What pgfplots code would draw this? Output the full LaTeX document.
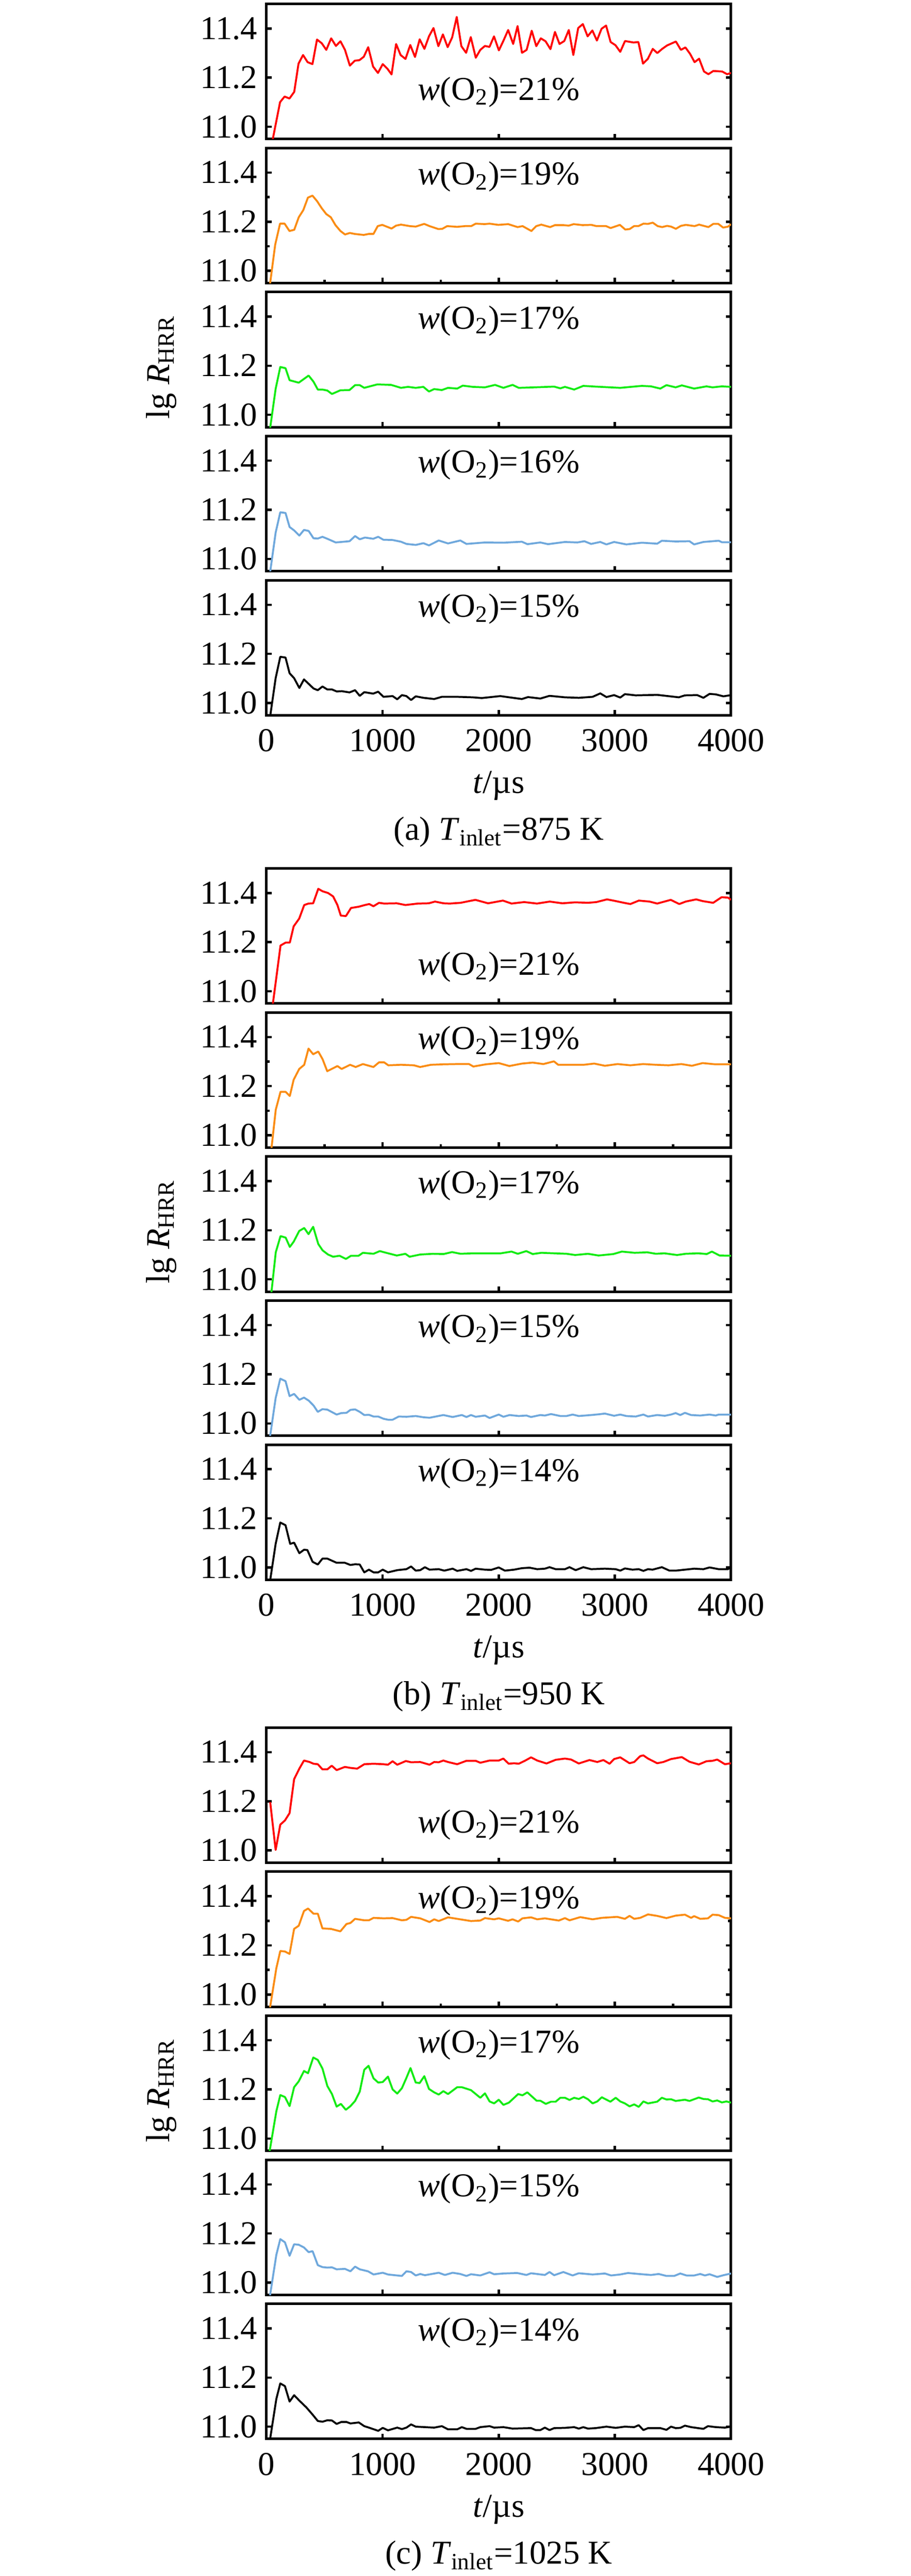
\documentclass[border=0pt]{standalone}
\usepackage{fontspec}
\setmainfont{Liberation Serif}
\usepackage{pgfplots}
\pgfplotsset{compat=1.18}
\definecolor{cRed}{RGB}{255,0,0}
\definecolor{cOrg}{RGB}{250,140,20}
\definecolor{cGrn}{RGB}{20,235,20}
\definecolor{cBlu}{RGB}{111,168,220}
\newcommand\lblfont{\fontsize{13pt}{15pt}\selectfont}
\newcommand\wlab[2]{\node[anchor=base,font=\lblfont] at (axis cs:2000,#1) {\textit{w}(O\textsubscript{2})=#2\%};}
\pgfplotsset{
  panel/.style={
    scale only axis, width=180.8pt, height=52.6pt,
    anchor=north west,
    xmin=0, xmax=4000, ymin=10.95, ymax=11.5,
    xtick={0,1000,2000,3000,4000}, ytick={11.0,11.2,11.4},
    yticklabels={11.0,11.2,11.4},
    xticklabels={},
    xtick pos=bottom, ytick pos=both,
    tick align=inside,
    major tick length=2pt, minor tick length=1.2pt,
    axis line style={line width=1pt},
    every tick/.style={black, line width=0.9pt},
    tick label style={font=\lblfont},
    label style={font=\lblfont},
    clip mode=individual,
    every axis plot/.append style={line width=0.75pt, line join=round, mark=none},
  },
  minorp/.style={minor xtick={500,1500,2500,3500}, minor ytick={11.1,11.3}},
  bottomp/.style={
    xticklabels={0,1000,2000,3000,4000},
    xticklabel style={yshift=-2pt},
    xlabel={\textit{t}/µs},
    xlabel style={at={(axis description cs:0.5,0)}, anchor=base, yshift=-30.4pt},
  },
  ylabp/.style={
    ylabel={lg \textit{R}\textsubscript{HRR}},
    ylabel style={at={(axis description cs:-0.226,0.445)}, anchor=center},
  },
}
\begin{document}
\begin{tikzpicture}
\useasboundingbox (0,0) rectangle (354.4pt,-1003.2pt);
% ================= (a) 875 K =================
\begin{axis}[panel, at={(103.7pt,-1.54pt)}]
\addplot[cRed] table {
15 10.85
57 10.956
117 11.1
156 11.123
198 11.115
239 11.142
276 11.257
315 11.292
354 11.263
396 11.255
435 11.355
476 11.34
515 11.313
557 11.36
598 11.329
637 11.348
676 11.313
718 11.249
761 11.269
800 11.271
838 11.285
876 11.324
918 11.245
960 11.219
1001 11.255
1040 11.237
1077 11.213
1116 11.337
1155 11.292
1197 11.276
1238 11.333
1279 11.284
1319 11.356
1360 11.317
1400 11.369
1438 11.402
1480 11.328
1519 11.376
1560 11.324
1599 11.364
1638 11.447
1678 11.328
1719 11.301
1759 11.365
1802 11.281
1841 11.313
1881 11.329
1920 11.325
1959 11.368
2001 11.311
2040 11.35
2081 11.394
2124 11.337
2162 11.41
2200 11.301
2240 11.313
2284 11.391
2323 11.328
2362 11.36
2403 11.348
2445 11.316
2484 11.386
2523 11.337
2564 11.349
2603 11.394
2642 11.292
2684 11.402
2724 11.418
2765 11.368
2806 11.392
2845 11.351
2885 11.399
2924 11.412
2963 11.345
3005 11.332
3046 11.305
3087 11.349
3161 11.343
3202 11.345
3242 11.257
3283 11.276
3326 11.317
3365 11.3
3407 11.317
3449 11.331
3525 11.347
3568 11.313
3607 11.323
3647 11.297
3686 11.263
3725 11.277
3767 11.225
3805 11.214
3847 11.227
3923 11.225
3966 11.214
4000 11.219
};
\wlab{11.109}{21}
\end{axis}
\begin{axis}[panel, minorp, at={(103.7pt,-57.64pt)}]
\addplot[cOrg] table {
15 10.89
75 11.106
117 11.192
156 11.192
198 11.162
239 11.167
278 11.218
317 11.247
357 11.298
396 11.306
435 11.284
477 11.254
515 11.231
554 11.218
594 11.186
637 11.162
676 11.148
718 11.154
761 11.15
837 11.146
879 11.15
921 11.15
958 11.182
997 11.187
1077 11.172
1116 11.184
1158 11.188
1234 11.182
1285 11.18
1358 11.191
1404 11.182
1480 11.17
1514 11.171
1556 11.182
1641 11.179
1709 11.182
1763 11.182
1802 11.192
1878 11.19
1920 11.192
1996 11.187
2081 11.19
2128 11.183
2162 11.178
2205 11.182
2281 11.162
2323 11.182
2366 11.188
2442 11.178
2484 11.186
2552 11.186
2603 11.184
2645 11.19
2721 11.186
2797 11.187
2841 11.182
2924 11.182
2963 11.174
3043 11.187
3089 11.168
3127 11.17
3165 11.182
3202 11.182
3246 11.192
3285 11.191
3326 11.196
3368 11.182
3407 11.178
3449 11.183
3483 11.18
3525 11.171
3568 11.183
3611 11.187
3686 11.182
3725 11.188
3805 11.178
3847 11.191
3890 11.191
3932 11.176
3975 11.18
4000 11.19
};
\wlab{11.35}{19}
\end{axis}
\begin{axis}[panel, ylabp, at={(103.7pt,-113.74pt)}]
\addplot[cGrn] table {
15 10.89
79 11.106
119 11.195
164 11.19
199 11.141
278 11.131
363 11.16
405 11.135
442 11.103
482 11.103
524 11.099
564 11.085
636 11.10
715 11.101
763 11.121
803 11.121
842 11.11
954 11.124
1073 11.122
1158 11.11
1219 11.114
1285 11.11
1351 11.114
1399 11.095
1444 11.105
1510 11.101
1563 11.11
1642 11.107
1690 11.119
1775 11.114
1881 11.112
1968 11.122
2040 11.11
2119 11.122
2172 11.11
2305 11.112
2477 11.115
2530 11.108
2570 11.114
2649 11.103
2728 11.118
2834 11.115
3046 11.11
3232 11.118
3311 11.116
3391 11.107
3444 11.121
3523 11.112
3576 11.12
3682 11.107
3788 11.116
3841 11.112
3921 11.116
4000 11.114
};
\wlab{11.35}{17}
\end{axis}
\begin{axis}[panel, at={(103.7pt,-169.84pt)}]
\addplot[cBlu] table {
15 10.89
79 11.107
119 11.19
164 11.187
199 11.13
238 11.116
283 11.095
323 11.118
363 11.114
405 11.084
442 11.083
482 11.09
524 11.082
596 11.067
715 11.072
763 11.093
803 11.08
848 11.087
919 11.082
962 11.09
1007 11.078
1086 11.077
1158 11.07
1205 11.061
1285 11.057
1351 11.064
1399 11.055
1483 11.075
1563 11.063
1669 11.075
1722 11.061
1881 11.067
2040 11.066
2199 11.07
2247 11.06
2358 11.067
2424 11.06
2570 11.069
2676 11.067
2737 11.072
2795 11.061
2874 11.069
2927 11.059
2993 11.069
3099 11.059
3232 11.066
3364 11.062
3404 11.074
3523 11.071
3642 11.072
3682 11.059
3762 11.069
3894 11.074
3921 11.068
4000 11.068
};
\wlab{11.35}{16}
\end{axis}
\begin{axis}[panel, bottomp, at={(103.7pt,-225.94pt)}]
\addplot[black] table {
15 10.89
79 11.101
119 11.188
164 11.185
199 11.121
238 11.101
283 11.061
323 11.096
363 11.078
405 11.059
442 11.052
482 11.067
524 11.055
564 11.055
604 11.047
649 11.048
715 11.043
763 11.052
803 11.029
842 11.044
919 11.038
962 11.046
1007 11.025
1086 11.028
1126 11.015
1166 11.032
1205 11.028
1245 11.012
1285 11.027
1351 11.021
1444 11.016
1510 11.025
1642 11.025
1775 11.023
1854 11.02
2013 11.028
2199 11.016
2252 11.024
2358 11.018
2437 11.029
2570 11.023
2689 11.021
2808 11.025
2874 11.039
2927 11.024
2993 11.032
3046 11.022
3086 11.036
3179 11.031
3364 11.033
3550 11.023
3603 11.031
3709 11.032
3762 11.021
3815 11.037
3868 11.035
3934 11.027
4000 11.032
};
\wlab{11.35}{15}
\node[anchor=base,font=\lblfont] at (rel axis cs:0.5,0) [yshift=-48.6pt] {(a) \textit{T}\textsubscript{inlet}=875 K};
\end{axis}
% ================= (b) 950 K =================
\begin{axis}[panel, at={(103.7pt,-338.2pt)}]
\addplot[cRed] table {
30 10.86
80 11.038
121 11.186
165 11.198
201 11.198
234 11.264
282 11.296
325 11.351
362 11.357
402 11.358
446 11.417
483 11.407
530 11.4
574 11.386
611 11.351
640 11.308
684 11.306
728 11.339
793 11.344
848 11.351
885 11.355
921 11.346
969 11.36
1013 11.357
1122 11.358
1196 11.351
1305 11.357
1397 11.358
1451 11.365
1525 11.358
1579 11.357
1671 11.36
1799 11.372
1908 11.358
2036 11.369
2110 11.357
2219 11.363
2329 11.357
2439 11.365
2548 11.358
2658 11.362
2768 11.36
2841 11.363
2932 11.374
2987 11.369
3078 11.36
3133 11.355
3206 11.369
3298 11.365
3364 11.357
3481 11.372
3554 11.355
3609 11.365
3700 11.374
3755 11.367
3846 11.36
3919 11.383
3974 11.381
4000 11.372
};
\wlab{11.067}{21}
\end{axis}
\begin{axis}[panel, minorp, at={(103.7pt,-394.3pt)}]
\addplot[cOrg] table {
25 10.87
80 11.104
121 11.177
165 11.177
201 11.16
234 11.226
282 11.27
325 11.287
362 11.353
402 11.33
446 11.341
483 11.31
523 11.261
574 11.273
611 11.282
647 11.27
720 11.287
768 11.278
830 11.29
921 11.278
969 11.297
1013 11.297
1049 11.285
1159 11.287
1269 11.285
1323 11.278
1415 11.287
1525 11.289
1634 11.29
1744 11.29
1781 11.28
1890 11.289
2000 11.294
2091 11.282
2201 11.292
2292 11.296
2384 11.29
2475 11.301
2512 11.287
2621 11.287
2731 11.287
2822 11.292
2914 11.283
3023 11.29
3133 11.285
3243 11.29
3353 11.287
3462 11.285
3572 11.29
3663 11.283
3755 11.294
3864 11.289
4000 11.289
};
\wlab{11.35}{19}
\end{axis}
\begin{axis}[panel, ylabp, at={(103.7pt,-450.4pt)}]
\addplot[cGrn] table {
25 10.87
80 11.11
121 11.176
165 11.17
201 11.132
234 11.153
282 11.197
325 11.209
362 11.184
402 11.214
446 11.144
483 11.118
530 11.101
574 11.092
629 11.096
684 11.083
728 11.096
793 11.096
830 11.108
921 11.104
976 11.115
1031 11.108
1122 11.097
1196 11.104
1232 11.092
1323 11.101
1433 11.104
1525 11.103
1598 11.111
1671 11.104
1781 11.106
1890 11.106
2018 11.106
2110 11.113
2164 11.104
2237 11.115
2292 11.103
2366 11.108
2475 11.106
2585 11.104
2658 11.099
2768 11.104
2859 11.097
2987 11.103
3060 11.113
3170 11.108
3279 11.11
3353 11.104
3426 11.106
3535 11.099
3609 11.104
3718 11.106
3791 11.103
3835 11.113
3901 11.097
4000 11.096
};
\wlab{11.35}{17}
\end{axis}
\begin{axis}[panel, at={(103.7pt,-506.5pt)}]
\addplot[cBlu] table {
15 10.895
79 11.103
119 11.182
164 11.172
199 11.111
238 11.12
283 11.096
323 11.105
363 11.093
405 11.073
442 11.047
482 11.058
524 11.056
604 11.036
644 11.042
689 11.043
723 11.055
763 11.057
803 11.047
842 11.034
882 11.035
922 11.028
962 11.028
1007 11.019
1046 11.015
1086 11.015
1139 11.028
1205 11.027
1285 11.03
1351 11.025
1404 11.023
1523 11.034
1603 11.026
1682 11.034
1722 11.026
1761 11.034
1801 11.027
1881 11.032
1921 11.022
2000 11.036
2040 11.027
2093 11.034
2172 11.03
2238 11.032
2278 11.026
2358 11.034
2397 11.032
2450 11.038
2530 11.03
2583 11.03
2636 11.036
2689 11.03
2795 11.034
2861 11.037
2914 11.04
2993 11.031
3046 11.036
3099 11.03
3179 11.028
3245 11.036
3285 11.028
3364 11.034
3430 11.031
3483 11.036
3523 11.042
3563 11.034
3603 11.043
3656 11.034
3735 11.032
3815 11.036
3868 11.032
3894 11.036
4000 11.036
};
\wlab{11.35}{15}
\end{axis}
\begin{axis}[panel, bottomp, at={(103.7pt,-562.6pt)}]
\addplot[black] table {
15 10.895
79 11.096
119 11.183
164 11.172
204 11.096
238 11.101
283 11.058
323 11.072
352 11.071
397 11.023
442 11.012
482 11.036
524 11.036
604 11.019
675 11.019
723 11.01
763 11.013
803 11.012
842 10.98
882 10.991
922 10.98
962 10.98
1001 10.991
1046 10.98
1126 10.989
1205 10.993
1245 11.004
1285 10.987
1324 10.989
1364 11.001
1404 10.991
1483 10.993
1531 10.987
1603 10.995
1642 10.986
1722 10.993
1761 10.986
1801 10.995
1881 10.991
1934 10.99
2000 11.0
2053 10.987
2132 10.991
2199 10.997
2265 10.999
2331 10.993
2397 10.995
2437 11.001
2490 10.993
2570 10.993
2609 11.001
2662 10.989
2728 11.001
2795 10.993
2914 10.995
3007 10.993
3046 10.987
3086 10.996
3152 10.991
3205 10.993
3245 10.986
3285 10.993
3324 10.991
3404 11.001
3470 10.987
3523 10.987
3603 10.991
3682 10.995
3762 10.993
3815 11.0
3894 10.993
3974 10.993
4000 11.002
};
\wlab{11.35}{14}
\node[anchor=base,font=\lblfont] at (rel axis cs:0.5,0) [yshift=-48.6pt] {(b) \textit{T}\textsubscript{inlet}=950 K};
\end{axis}
% ================= (c) 1025 K =================
\begin{axis}[panel, at={(103.7pt,-672.8pt)}]
\addplot[cRed] table {
32 11.197
79 11.002
119 11.105
159 11.122
199 11.152
238 11.29
283 11.333
323 11.366
371 11.36
405 11.353
442 11.351
482 11.33
524 11.33
562 11.345
604 11.327
675 11.34
723 11.336
781 11.333
842 11.351
922 11.353
1007 11.351
1046 11.349
1086 11.363
1126 11.349
1200 11.364
1245 11.359
1324 11.36
1404 11.349
1444 11.36
1483 11.359
1523 11.366
1563 11.36
1642 11.351
1722 11.365
1801 11.365
1841 11.357
1921 11.366
2000 11.366
2040 11.374
2085 11.353
2132 11.355
2172 11.353
2225 11.365
2278 11.379
2331 11.366
2411 11.354
2490 11.369
2570 11.374
2623 11.37
2689 11.354
2781 11.368
2848 11.36
2901 11.368
2954 11.353
2993 11.372
3046 11.379
3126 11.355
3166 11.36
3218 11.384
3245 11.387
3285 11.374
3364 11.355
3417 11.36
3483 11.372
3576 11.38
3642 11.361
3722 11.35
3788 11.363
3841 11.365
3881 11.37
3947 11.351
4000 11.355
};
\wlab{11.071}{21}
\end{axis}
\begin{axis}[panel, minorp, at={(103.7pt,-728.9pt)}]
\addplot[cOrg] table {
15 10.9
85 11.107
119 11.177
159 11.175
199 11.165
238 11.267
278 11.28
323 11.34
358 11.35
405 11.329
442 11.329
482 11.269
556 11.267
636 11.257
689 11.287
723 11.291
763 11.308
842 11.302
882 11.302
922 11.312
1007 11.31
1086 11.311
1166 11.302
1205 11.304
1245 11.316
1324 11.31
1404 11.295
1444 11.306
1483 11.299
1563 11.314
1642 11.308
1761 11.299
1841 11.301
1881 11.311
1960 11.306
2000 11.31
2080 11.3
2119 11.306
2167 11.297
2204 11.31
2278 11.314
2331 11.306
2397 11.31
2517 11.301
2570 11.311
2609 11.302
2702 11.315
2808 11.306
2887 11.312
3020 11.316
3086 11.308
3126 11.32
3166 11.308
3218 11.312
3285 11.326
3364 11.32
3444 11.311
3523 11.321
3603 11.325
3656 11.312
3682 11.319
3735 11.308
3801 11.31
3841 11.325
3894 11.323
3947 11.312
4000 11.31
};
\wlab{11.35}{19}
\end{axis}
\begin{axis}[panel, ylabp, at={(103.7pt,-785.0pt)}]
\addplot[cGrn] table {
10 10.9
85 11.111
119 11.177
159 11.169
199 11.132
238 11.209
278 11.233
323 11.275
358 11.266
403 11.33
442 11.32
482 11.285
524 11.214
564 11.181
604 11.13
641 11.141
683 11.117
723 11.132
763 11.153
803 11.191
842 11.28
879 11.296
922 11.245
962 11.228
1001 11.23
1046 11.252
1086 11.2
1126 11.183
1166 11.205
1205 11.247
1240 11.287
1285 11.228
1319 11.226
1359 11.254
1399 11.202
1444 11.188
1483 11.179
1523 11.193
1563 11.181
1642 11.209
1682 11.209
1761 11.197
1841 11.166
1881 11.184
1921 11.151
1960 11.143
2000 11.158
2040 11.137
2087 11.146
2167 11.181
2204 11.176
2246 11.188
2326 11.154
2358 11.154
2405 11.141
2450 11.15
2490 11.15
2530 11.166
2570 11.166
2609 11.157
2649 11.166
2689 11.161
2728 11.17
2768 11.16
2808 11.143
2848 11.151
2887 11.168
2961 11.15
3007 11.166
3046 11.151
3086 11.143
3126 11.131
3166 11.139
3205 11.129
3245 11.151
3285 11.143
3364 11.15
3404 11.166
3444 11.159
3483 11.16
3523 11.153
3603 11.158
3642 11.153
3722 11.167
3762 11.161
3801 11.16
3841 11.151
3881 11.155
3921 11.147
3960 11.151
4000 11.146
};
\wlab{11.35}{17}
\end{axis}
\begin{axis}[panel, at={(103.7pt,-841.1pt)}]
\addplot[cBlu] table {
15 10.9
85 11.113
119 11.177
159 11.164
199 11.109
238 11.156
278 11.154
323 11.143
363 11.124
397 11.128
442 11.071
482 11.063
524 11.061
564 11.062
604 11.054
675 11.056
723 11.046
763 11.065
803 11.054
874 11.046
922 11.033
1001 11.04
1046 11.033
1166 11.027
1205 11.046
1245 11.043
1285 11.029
1324 11.035
1364 11.03
1483 11.04
1536 11.031
1603 11.04
1669 11.035
1722 11.027
1761 11.034
1841 11.029
1921 11.042
1960 11.034
2040 11.037
2159 11.039
2238 11.031
2278 11.038
2397 11.031
2437 11.043
2477 11.03
2556 11.043
2636 11.029
2689 11.038
2808 11.033
2914 11.037
2967 11.029
3046 11.033
3113 11.039
3205 11.035
3311 11.031
3377 11.035
3444 11.027
3510 11.027
3563 11.037
3616 11.029
3682 11.029
3735 11.035
3775 11.029
3815 11.034
3881 11.023
3934 11.03
4000 11.037
};
\wlab{11.35}{15}
\end{axis}
\begin{axis}[panel, bottomp, at={(103.7pt,-897.2pt)}]
\addplot[black] table {
15 10.9
85 11.113
119 11.176
159 11.165
199 11.102
238 11.128
283 11.106
344 11.078
397 11.049
442 11.023
482 11.02
524 11.026
564 11.025
604 11.011
644 11.019
689 11.019
723 11.013
795 11.017
842 11.002
882 10.996
962 10.983
1001 10.995
1046 10.985
1126 10.996
1166 10.99
1205 10.996
1245 11.009
1285 11.0
1364 10.998
1444 10.996
1510 11.002
1563 10.989
1642 10.989
1682 10.998
1722 10.991
1801 10.991
1841 10.998
1921 11.002
1960 10.996
2040 10.998
2119 10.992
2278 10.994
2318 10.986
2358 10.986
2397 10.996
2437 10.986
2477 10.994
2570 10.995
2649 10.998
2689 10.992
2728 10.998
2768 10.992
2834 10.994
2927 11.0
3007 10.995
3086 11.0
3166 10.998
3205 11.006
3245 10.986
3285 10.994
3391 10.994
3444 10.987
3483 11.0
3523 10.994
3563 10.995
3603 11.004
3656 10.998
3762 10.991
3801 11.002
3868 10.998
3947 10.996
4000 11.0
};
\wlab{11.35}{14}
\node[anchor=base,font=\lblfont] at (rel axis cs:0.5,0) [yshift=-48.6pt] {(c) \textit{T}\textsubscript{inlet}=1025 K};
\end{axis}
\end{tikzpicture}
\end{document}
